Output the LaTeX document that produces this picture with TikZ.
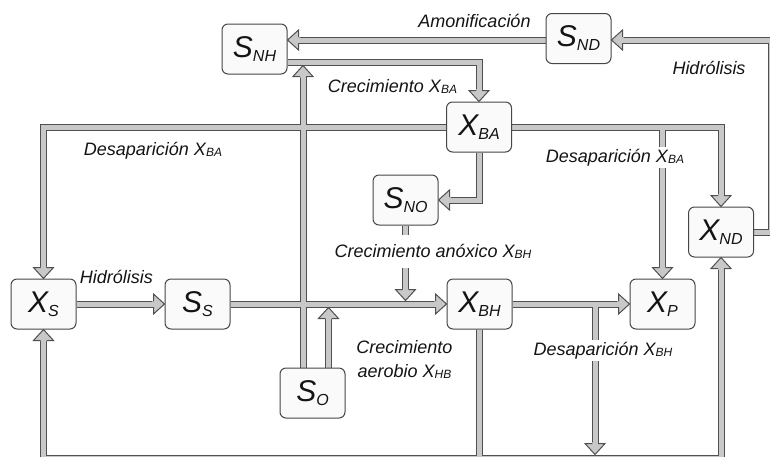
\documentclass[tikz,border=0pt]{standalone}
\usepackage{fontspec}
\setmainfont{Liberation Sans}
\usetikzlibrary{calc,backgrounds}

\definecolor{pipeline}{RGB}{80,80,80}
\definecolor{pipefill}{RGB}{200,200,200}
\definecolor{boxline}{RGB}{70,70,70}
\definecolor{boxfill}{RGB}{250,250,250}
\definecolor{ink}{RGB}{20,20,20}

% subscripts for state names and for process labels
\newcommand\nsub[1]{\raisebox{-4pt}{\fontsize{16}{16}\selectfont #1}}
\newcommand\lsub[1]{\raisebox{-1.5pt}{\fontsize{12}{12}\selectfont #1}}

% block arrow head: tip at #1, pointing in direction #2 (degrees)
\newcommand\pipehead[2]{%
  \begin{scope}[shift={(#1)}, rotate=#2]
    \fill[pipefill] (0,0) -- (-11,10) -- (-11,2.6) -- (-12.5,2.6)
      -- (-12.5,-2.6) -- (-11,-2.6) -- (-11,-10) -- cycle;
    \draw[pipeline, line width=1pt, line join=miter]
      (-11,3) -- (-11,10) -- (0,0) -- (-11,-10) -- (-11,-3);
  \end{scope}}

\tikzset{
  state/.style={draw=boxline, line width=1pt, fill=boxfill, rounded corners=6pt,
    minimum width=65pt, minimum height=50pt, inner sep=0pt,
    font=\fontsize{30}{30}\selectfont\itshape, text=ink},
  lbl/.style={font=\fontsize{18}{21}\selectfont\itshape, text=ink, fill=white,
    inner sep=2pt, anchor=base},
  pipeout/.style={draw=pipeline, line width=7pt, line join=miter, line cap=butt},
  pipein/.style={draw=pipefill, line width=5pt, line join=miter, line cap=butt},
}

\begin{document}
\begin{tikzpicture}[x=1pt, y=-1pt]
\useasboundingbox (0,0) rectangle (770,456);

% states
\node[state] (SNH) at (254.5,49)  {S\nsub{NH}};
\node[state] (SND) at (578.5,38.5){S\nsub{ND}};
\node[state] (XBA) at (479,127)   {X\nsub{BA}};
\node[state] (SNO) at (405.5,200) {S\nsub{NO}};
\node[state] (XND) at (721,232)   {X\nsub{ND}};
\node[state] (XS)  at (43.5,304)  {X\nsub{S}};
\node[state] (SS)  at (197.5,304) {S\nsub{S}};
\node[state] (XBH) at (479.5,304) {X\nsub{BH}};
\node[state] (XP)  at (662.5,304) {X\nsub{P}};
\node[state] (SO)  at (312.5,393) {S\nsub{O}};

% rails
\coordinate (yTop) at (0,40);
\coordinate (yB)   at (0,62);
\coordinate (yE)   at (0,304);
\coordinate (yF)   at (0,458);
\coordinate (xO)   at (303,0);
\coordinate (xO2)  at (328.5,0);
\coordinate (xR)   at (771,0);
\coordinate (xBHd) at (595,0);

% arrow tips and the bases of their heads
\coordinate (t1) at (SNH.east |- yTop);           \coordinate (b1) at ($(t1)+(11,0)$);
\coordinate (t2) at (SND.east |- yTop);           \coordinate (b2) at ($(t2)+(11,0)$);
\coordinate (t3) at (XBA.north);                  \coordinate (b3) at ($(t3)+(0,-11)$);
\coordinate (t4) at ($(xO |- yB)+(0,3.5)$);       \coordinate (b4) at ($(t4)+(0,11)$);
\coordinate (t5) at ($(xO2 |- yE)+(0,3.5)$);      \coordinate (b5) at ($(t5)+(0,11)$);
\coordinate (t6) at (SS.west);                    \coordinate (b6) at ($(t6)+(-11,0)$);
\coordinate (t7) at (XBH.west);                   \coordinate (b7) at ($(t7)+(-11,0)$);
\coordinate (t8) at ($(SNO.south |- yE)+(0,-3.5)$);\coordinate (b8) at ($(t8)+(0,-11)$);
\coordinate (t9) at (SNO.east);                   \coordinate (b9) at ($(t9)+(11,0)$);
\coordinate (t10) at (XS.north);                  \coordinate (b10) at ($(t10)+(0,-11)$);
\coordinate (t11) at (XND.north);                 \coordinate (b11) at ($(t11)+(0,-11)$);
\coordinate (t12) at (XP.north);                  \coordinate (b12) at ($(t12)+(0,-11)$);
\coordinate (t13) at (XP.west);                   \coordinate (b13) at ($(t13)+(-11,0)$);
\coordinate (t14) at ($(xBHd |- yF)+(0,-3.5)$);   \coordinate (b14) at ($(t14)+(0,-11)$);
\coordinate (t15) at (XS.south);                  \coordinate (b15) at ($(t15)+(0,11)$);
\coordinate (t16) at (XND.south);                 \coordinate (b16) at ($(t16)+(0,11)$);

\begin{pgfonlayer}{background}
\def\pipes{%
  (SND.west |- yTop) -- (b1)
  (XND.east) -- (XND.east -| xR) -- (xR |- yTop) -- (b2)
  (SNH.east |- yB) -- (XBA.north |- yB) -- (b3)
  (SO.north -| xO) -- (b4)
  (SO.north -| xO2) -- (b5)
  (XS.east) -- (b6)
  (SS.east) -- (b7)
  (SNO.south) -- (b8)
  (XBA.south) |- (b9)
  (XBA.west) -| (b10)
  (XBA.east) -| (b11)
  (XP.north |- XBA.east) -- (b12)
  (XBH.east) -- (b13)
  (xBHd |- XBH.east) -- (b14)
  (b15) |- (XND.south |- yF) -- (b16)
  (XBH.south) -- (XBH.south |- yF)}
\path[pipeout] \pipes;
\path[pipein] \pipes;
\pipehead{t1}{180}
\pipehead{t2}{180}
\pipehead{t3}{-90}
\pipehead{t4}{90}
\pipehead{t5}{90}
\pipehead{t6}{0}
\pipehead{t7}{0}
\pipehead{t8}{-90}
\pipehead{t9}{180}
\pipehead{t10}{-90}
\pipehead{t11}{-90}
\pipehead{t12}{-90}
\pipehead{t13}{0}
\pipehead{t14}{-90}
\pipehead{t15}{90}
\pipehead{t16}{90}
\end{pgfonlayer}

% process labels
\node[lbl] (l1) at (474.5,27) {Amonificación};
\node[lbl] (l2) at (709,74) {Hidrólisis};
\node[lbl] (l3) at (392.5,92) {Crecimiento X\lsub{BA}};
\node[lbl] (l4) at (153,155) {Desaparición X\lsub{BA}};
\node[lbl, text height=13pt] (l5) at (615,162) {Desaparición X\lsub{BA}};
\node[lbl, inner ysep=9pt] (l6) at (433,257) {Crecimiento anóxico X\lsub{BH}};
\node[lbl] (l7) at (116.5,283) {Hidrólisis};
\node[lbl] (l8a) at (404.5,353) {Crecimiento};
\node[lbl] (l8b) at (404.5,377) {aerobio X\lsub{HB}};
\node[lbl] (l9) at (603,355) {Desaparición X\lsub{BH}};
\end{tikzpicture}
\end{document}
